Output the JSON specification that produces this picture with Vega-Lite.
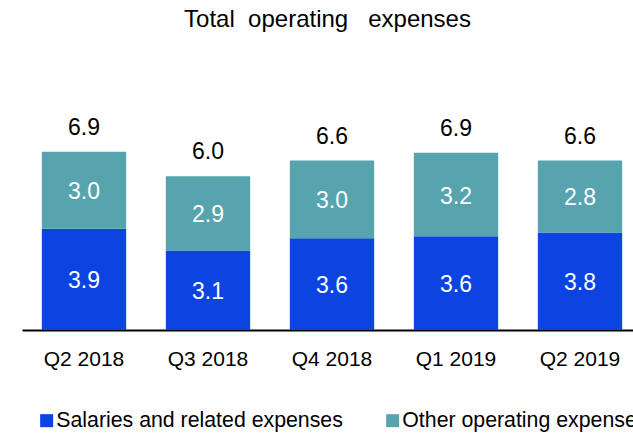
{
  "$schema": "https://vega.github.io/schema/vega-lite/v6.json",
  "autosize": {"type": "none"},
  "width": 611,
  "height": 206,
  "padding": {"left": 22, "top": 124, "right": 0, "bottom": 103},
  "background": "white",
  "config": {
    "view": {"stroke": null},
    "font": "Liberation Sans",
    "text": {"font": "Liberation Sans"}
  },
  "title": {
    "text": "Total\u00a0\u00a0operating\u00a0\u00a0\u00a0expenses",
    "font": "Liberation Sans",
    "fontSize": 24,
    "fontWeight": "normal",
    "color": "#000000",
    "anchor": "middle",
    "frame": "group",
    "baseline": "alphabetic",
    "offset": 66
  },
  "data": {
    "values": [
      {"quarter": "Q2 2018", "category": "Salaries and related expenses", "order": 1, "value": 3.93},
      {"quarter": "Q2 2018", "category": "Other operating expenses", "order": 2, "value": 2.99},
      {"quarter": "Q3 2018", "category": "Salaries and related expenses", "order": 1, "value": 3.09},
      {"quarter": "Q3 2018", "category": "Other operating expenses", "order": 2, "value": 2.88},
      {"quarter": "Q4 2018", "category": "Salaries and related expenses", "order": 1, "value": 3.56},
      {"quarter": "Q4 2018", "category": "Other operating expenses", "order": 2, "value": 3.02},
      {"quarter": "Q1 2019", "category": "Salaries and related expenses", "order": 1, "value": 3.64},
      {"quarter": "Q1 2019", "category": "Other operating expenses", "order": 2, "value": 3.24},
      {"quarter": "Q2 2019", "category": "Salaries and related expenses", "order": 1, "value": 3.79},
      {"quarter": "Q2 2019", "category": "Other operating expenses", "order": 2, "value": 2.79}
    ]
  },
  "encoding": {
    "x": {
      "field": "quarter",
      "type": "nominal",
      "sort": null,
      "scale": {"range": [0, 620], "paddingInner": 0.32, "paddingOuter": 0.16},
      "axis": {
        "title": null,
        "ticks": false,
        "labelAngle": 0,
        "labelFont": "Liberation Sans",
        "labelFontSize": 21,
        "labelColor": "#000000",
        "labelBaseline": "alphabetic",
        "labelPadding": 35,
        "domainColor": "#000000",
        "domainWidth": 2,
        "grid": false
      }
    }
  },
  "layer": [
    {
      "mark": {"type": "bar"},
      "encoding": {
        "y": {
          "field": "value",
          "type": "quantitative",
          "stack": "zero",
          "scale": {"domain": [0, 8], "nice": false},
          "axis": null
        },
        "color": {
          "field": "category",
          "type": "nominal",
          "sort": ["Salaries and related expenses", "Other operating expenses"],
          "scale": {
            "domain": ["Salaries and related expenses", "Other operating expenses"],
            "range": ["#0c44e2", "#57a4ae"]
          },
          "legend": {
            "title": null,
            "orient": "none",
            "legendX": 14,
            "legendY": 286,
            "direction": "horizontal",
            "symbolType": "square",
            "symbolSize": 169,
            "symbolStrokeWidth": 0,
            "symbolOpacity": 1,
            "labelFont": "Liberation Sans",
            "labelFontSize": 21.3,
            "labelColor": "#000000",
            "labelLimit": 500,
            "labelOffset": -1,
            "columnPadding": 39
          }
        },
        "order": {"field": "order", "type": "quantitative"}
      }
    },
    {
      "mark": {"type": "text", "color": "white", "fontSize": 23, "baseline": "middle", "dy": 2},
      "encoding": {
        "y": {"field": "value", "type": "quantitative", "stack": "zero", "bandPosition": 0.5},
        "text": {"field": "value", "type": "quantitative", "format": ".1f"},
        "detail": {"field": "category"},
        "order": {"field": "order", "type": "quantitative"}
      },
      "transform": [
        {"stack": "value", "groupby": ["quarter"], "sort": [{"field": "order"}], "as": ["y0", "y1"]}
      ]
    },
    {
      "transform": [
        {"aggregate": [{"op": "sum", "field": "value", "as": "total"}], "groupby": ["quarter"]}
      ],
      "mark": {"type": "text", "color": "#000000", "fontSize": 23, "baseline": "alphabetic", "dy": -17},
      "encoding": {
        "y": {"field": "total", "type": "quantitative"},
        "text": {"field": "total", "type": "quantitative", "format": ".1f"}
      }
    }
  ]
}
